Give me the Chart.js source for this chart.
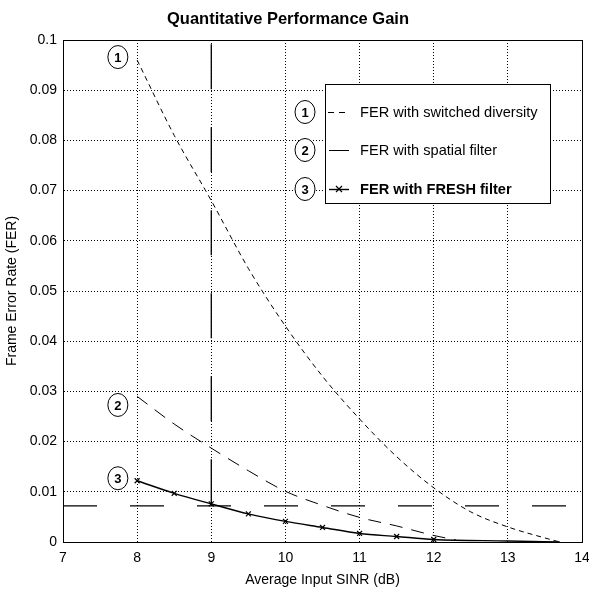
<!DOCTYPE html>
<html>
<head>
<meta charset="utf-8">
<title>Quantitative Performance Gain</title>
<script src="https://cdn.jsdelivr.net/npm/chart.js@4.4.1/dist/chart.umd.min.js"></script>
<style>
    html, body { margin: 0; padding: 0; background: #fff; }
    canvas { display: block; }
</style>
</head>
<body>
<canvas id="ferChart" width="589" height="589"></canvas>
<script>
// Data
const sinrSwitched = [8, 8.5, 9, 9.5, 10, 10.5, 11, 11.5, 12, 12.5, 13, 13.5, 13.7];
const ferSwitched = [0.096, 0.081, 0.068, 0.0545, 0.043, 0.033, 0.0245, 0.017, 0.0108, 0.006, 0.003, 0.0008, 0];

const sinrSpatial = [8, 8.5, 9, 9.5, 10, 10.5, 11, 11.5, 12, 12.3];
const ferSpatial = [0.029, 0.0235, 0.0187, 0.0142, 0.0101, 0.0073, 0.0049, 0.0032, 0.0013, 0.0004];

const sinrFresh = [8, 8.5, 9, 9.5, 10, 10.5, 11, 11.5, 12, 13, 13.7];
const ferFresh = [0.0122, 0.0097, 0.0076, 0.0056, 0.0041, 0.0029, 0.0017, 0.0011, 0.0005, 0.0002, 0];
const freshMarkedUpTo = 12; // x markers only on the simulated points

// reference levels: target FER line and the 9 dB marker
const targetSinr = [7, 13.8];
const targetFer = [0.0072, 0.0072];
const markerSinr = [9, 9];
const markerFer = [0.0075, 0.1];

const legendLabels = ['FER with switched diversity', 'FER with spatial filter', 'FER with FRESH filter'];
const curveTags = ['1', '2', '3'];
// where the circled tags sit next to the curves (x in dB, y in FER)
const tagSinr = [7.74, 7.74, 7.74];
const tagFer = [0.0966, 0.0273, 0.0127];

const xTicks = [7, 8, 9, 10, 11, 12, 13, 14];

const FONT = '"Liberation Sans", Arial, Helvetica, sans-serif';

function toPoints(xs, ys) {
    return xs.map((x, i) => ({ x: x, y: ys[i] }));
}

// Frame, title, circled tags and the legend box
const decorPlugin = {
    id: 'decor',
    afterDraw(chart) {
        const ctx = chart.ctx;
        const area = chart.chartArea;
        const xs = chart.scales.x;
        const ys = chart.scales.y;
        ctx.save();

        // full box round the plot
        ctx.strokeStyle = '#000';
        ctx.lineWidth = 1;
        ctx.setLineDash([]);
        ctx.strokeRect(Math.round(area.left) + 0.5, Math.round(area.top) + 0.5,
            Math.round(area.right - area.left), Math.round(area.bottom - area.top));

        // title
        ctx.fillStyle = '#000';
        ctx.font = 'bold 16.5px ' + FONT;
        ctx.textAlign = 'center';
        ctx.textBaseline = 'middle';
        ctx.fillText('Quantitative Performance Gain', 288, 19);

        // circled tags next to the curves
        const drawTag = (cx, cy, txt) => {
            ctx.beginPath();
            ctx.ellipse(cx, cy, 10, 11.5, 0, 0, Math.PI * 2);
            ctx.fillStyle = '#fff';
            ctx.fill();
            ctx.strokeStyle = '#000';
            ctx.lineWidth = 1;
            ctx.stroke();
            ctx.fillStyle = '#000';
            ctx.font = 'bold 13px ' + FONT;
            ctx.textAlign = 'center';
            ctx.textBaseline = 'middle';
            ctx.fillText(txt, cx, cy + 1);
        };
        curveTags.forEach((t, i) => {
            drawTag(xs.getPixelForValue(tagSinr[i]), ys.getPixelForValue(tagFer[i]), t);
        });

        // legend box
        const boxL = 325, boxT = 84, boxW = 225, boxH = 119;
        ctx.fillStyle = '#fff';
        ctx.fillRect(boxL, boxT, boxW, boxH);
        ctx.strokeStyle = '#000';
        ctx.lineWidth = 1;
        ctx.strokeRect(boxL + 0.5, boxT + 0.5, boxW, boxH);

        const rowY = [112, 150, 189];
        chart.data.datasets.slice(0, 3).forEach((ds, i) => {
            const y = rowY[i];
            drawTag(305, y, curveTags[i]);

            ctx.strokeStyle = '#000';
            ctx.lineWidth = ds.borderWidth;
            ctx.setLineDash(i === 0 ? [6, 5] : []);
            ctx.beginPath();
            ctx.moveTo(i === 0 ? 328 : 329, y + 0.5);
            ctx.lineTo(349, y + 0.5);
            ctx.stroke();
            ctx.setLineDash([]);
            if (i === 2) {
                ctx.lineWidth = 1.2;
                ctx.beginPath();
                ctx.moveTo(336, y - 3); ctx.lineTo(342, y + 3);
                ctx.moveTo(342, y - 3); ctx.lineTo(336, y + 3);
                ctx.stroke();
            }

            ctx.fillStyle = '#000';
            ctx.font = (i === 2 ? 'bold ' : '') + '14.6px ' + FONT;
            ctx.textAlign = 'left';
            ctx.textBaseline = 'middle';
            ctx.fillText(legendLabels[i], 360, y + 1);
        });

        ctx.restore();
    }
};

function renderFerChart() {
    const ctx = document.getElementById('ferChart').getContext('2d');
    new Chart(ctx, {
        type: 'line',
        data: {
            datasets: [{
                label: legendLabels[0],
                data: toPoints(sinrSwitched, ferSwitched),
                borderColor: '#000',
                borderWidth: 1,
                borderDash: [5, 4],
                pointRadius: 0,
                cubicInterpolationMode: 'monotone',
                fill: false
            }, {
                label: legendLabels[1],
                data: toPoints(sinrSpatial, ferSpatial),
                borderColor: '#000',
                borderWidth: 1,
                borderDash: [13, 9],
                pointRadius: 0,
                cubicInterpolationMode: 'monotone',
                fill: false
            }, {
                label: legendLabels[2],
                data: toPoints(sinrFresh, ferFresh),
                borderColor: '#000',
                borderWidth: 1.4,
                pointStyle: 'crossRot',
                pointRadius: c => (c.raw && c.raw.x <= freshMarkedUpTo ? 3.5 : 0),
                pointBorderWidth: 1.2,
                pointBorderColor: '#000',
                cubicInterpolationMode: 'monotone',
                fill: false
            }, {
                label: 'target',
                data: toPoints(targetSinr, targetFer),
                borderColor: '#000',
                borderWidth: 1.3,
                borderDash: [34, 33],
                pointRadius: 0,
                fill: false
            }, {
                label: 'marker',
                data: toPoints(markerSinr, markerFer),
                borderColor: '#000',
                borderWidth: 1.3,
                borderDash: [45, 38],
                pointRadius: 0,
                fill: false
            }]
        },
        options: {
            responsive: false,
            animation: false,
            layout: { padding: { left: 0, right: 0, top: 40, bottom: 0 } },
            plugins: {
                legend: { display: false },
                title: { display: false },
                tooltip: { enabled: false }
            },
            scales: {
                x: {
                    type: 'linear',
                    min: 7,
                    max: 14,
                    afterBuildTicks: scale => {
                        scale.ticks = xTicks.map(v => ({ value: v }));
                    },
                    afterFit: scale => {
                        scale.height = 47;
                        scale.paddingLeft = 0;
                        scale.paddingRight = 7;
                    },
                    grid: {
                        color: '#000',
                        lineWidth: 1,
                        drawTicks: false
                    },
                    border: { display: true, color: '#000', width: 1, dash: [1, 2] },
                    ticks: {
                        color: '#000',
                        padding: 8,
                        font: { family: FONT, size: 14 }
                    },
                    title: {
                        display: true,
                        text: 'Average Input SINR (dB)',
                        color: '#000',
                        padding: { top: 2, bottom: 0 },
                        font: { family: FONT, size: 14 }
                    }
                },
                y: {
                    min: 0,
                    max: 0.1,
                    afterFit: scale => { scale.width = 63; },
                    grid: {
                        color: '#000',
                        lineWidth: 1,
                        drawTicks: false
                    },
                    border: { display: true, color: '#000', width: 1, dash: [1, 2] },
                    ticks: {
                        stepSize: 0.01,
                        color: '#000',
                        padding: 6,
                        font: { family: FONT, size: 14 },
                        callback: value => String(+value.toFixed(2))
                    },
                    title: {
                        display: true,
                        text: 'Frame Error Rate (FER)',
                        color: '#000',
                        padding: { top: 4, bottom: 0 },
                        font: { family: FONT, size: 14 }
                    }
                }
            }
        },
        plugins: [decorPlugin]
    });
}

document.addEventListener('DOMContentLoaded', () => {
    renderFerChart();
});
</script>
</body>
</html>
